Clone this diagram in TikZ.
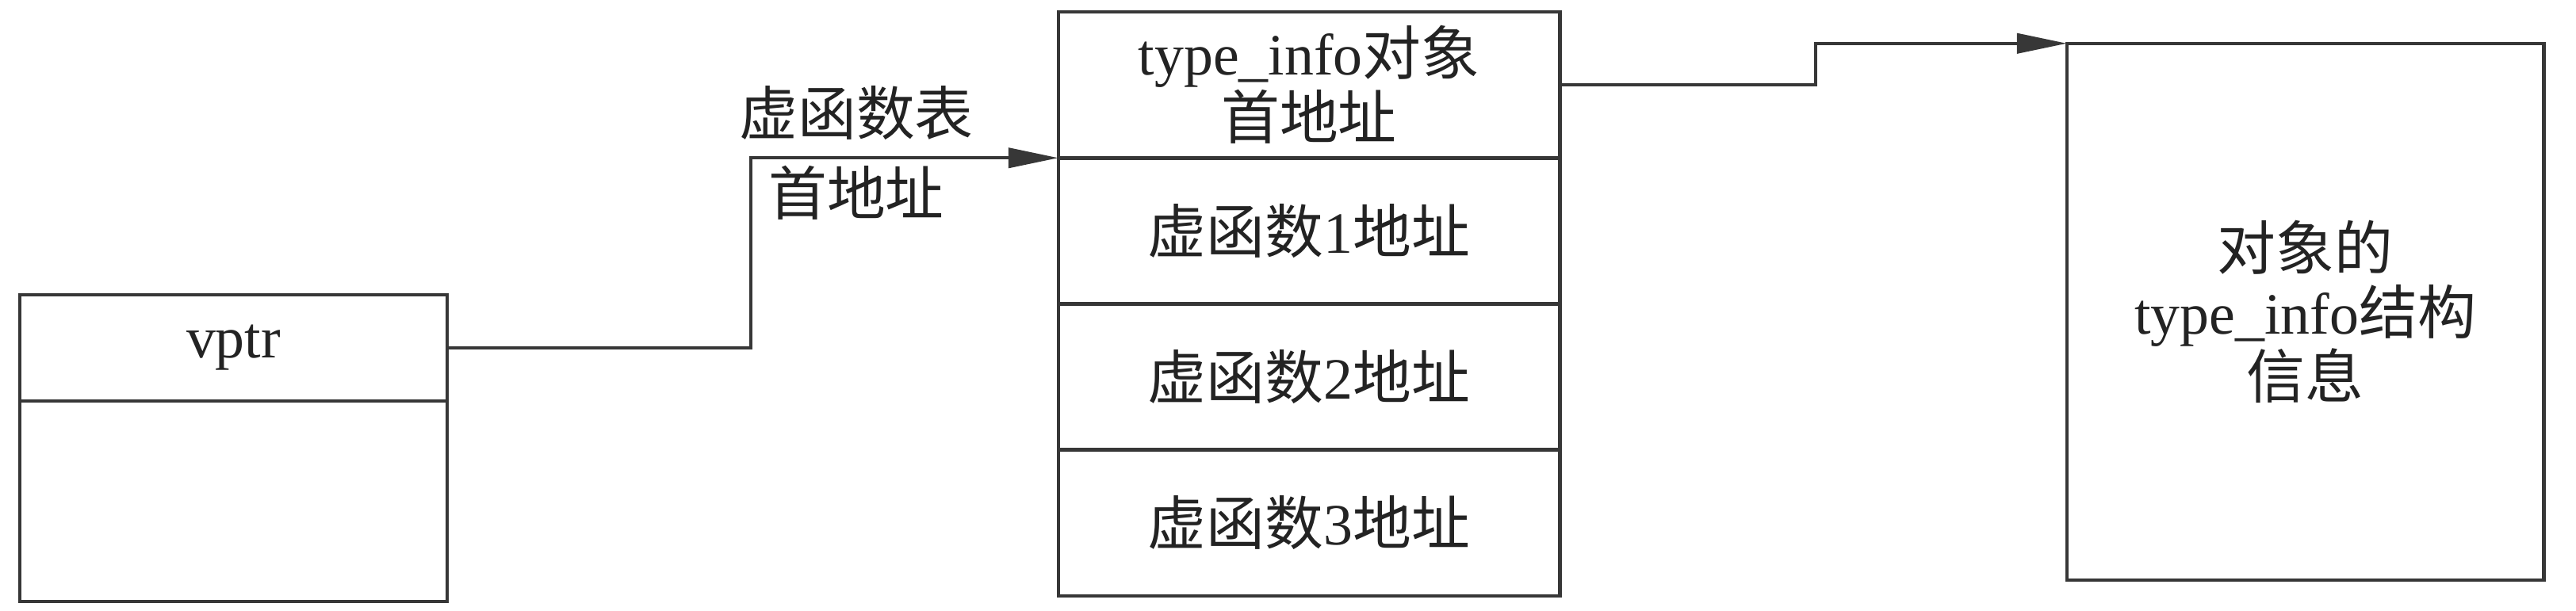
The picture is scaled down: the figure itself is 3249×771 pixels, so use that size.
\documentclass[tikz,border=0pt]{standalone}
\usepackage{fontspec}
\setmainfont{Liberation Serif}
\newfontfamily\cjk{Noto Sans CJK SC}
\usetikzlibrary{arrows.meta}
\definecolor{linecol}{RGB}{55,55,55}
\definecolor{txtcol}{RGB}{35,35,35}
\begin{document}
\begin{tikzpicture}[x=0.01cm,y=-0.01cm,
  box/.style={draw=linecol,line width=1.3pt,inner sep=0pt,outer sep=0pt,text=txtcol,align=center,
    font=\fontsize{21pt}{23pt}\selectfont},
  lab/.style={inner sep=0pt,text=txtcol,font=\fontsize{21pt}{23pt}\selectfont},
  conn/.style={draw=linecol,line width=1.2pt,-{Triangle[length=6.3mm,width=2.5mm]}}]
\useasboundingbox (0,0) rectangle (3249,771);
% left object
\node[box,minimum width=5.39cm,minimum height=1.34cm] (vptr) at (294.5,439) {vptr};
\node[box,minimum width=5.39cm,minimum height=2.53cm] (obj) at (294.5,632.5) {};
% virtual table
\node[box,minimum width=6.32cm,minimum height=1.8425cm] (r1) at (1651,107.1) {type\_info{\cjk 对象}\\{\cjk 首地址}};
\node[box,minimum width=6.32cm,minimum height=1.8425cm] (r2) at (1651,291.4) {{\cjk 虚函数}1{\cjk 地址}};
\node[box,minimum width=6.32cm,minimum height=1.8425cm] (r3) at (1651,475.6) {{\cjk 虚函数}2{\cjk 地址}};
\node[box,minimum width=6.32cm,minimum height=1.8425cm] (r4) at (1651,659.9) {{\cjk 虚函数}3{\cjk 地址}};
% type_info
\node[box,minimum width=6.01cm,minimum height=6.77cm] (info) at (2907.5,393.5) {{\cjk 对象的}\\type\_info{\cjk 结构}\\{\cjk 信息}};
% connectors
\coordinate (k1) at (947,0);
\coordinate (k2) at (2290,0);
\draw[conn] (vptr.east) -| (k1 |- r1.south west) -- (r1.south west);
\draw[conn] (r1.east) -| (k2 |- info.north west) -- (info.north west);
\node[lab] (l1) at (1080,143) {\cjk 虚函数表};
\node[lab] (l2) at (1080,243) {\cjk 首地址};
\end{tikzpicture}
\end{document}
